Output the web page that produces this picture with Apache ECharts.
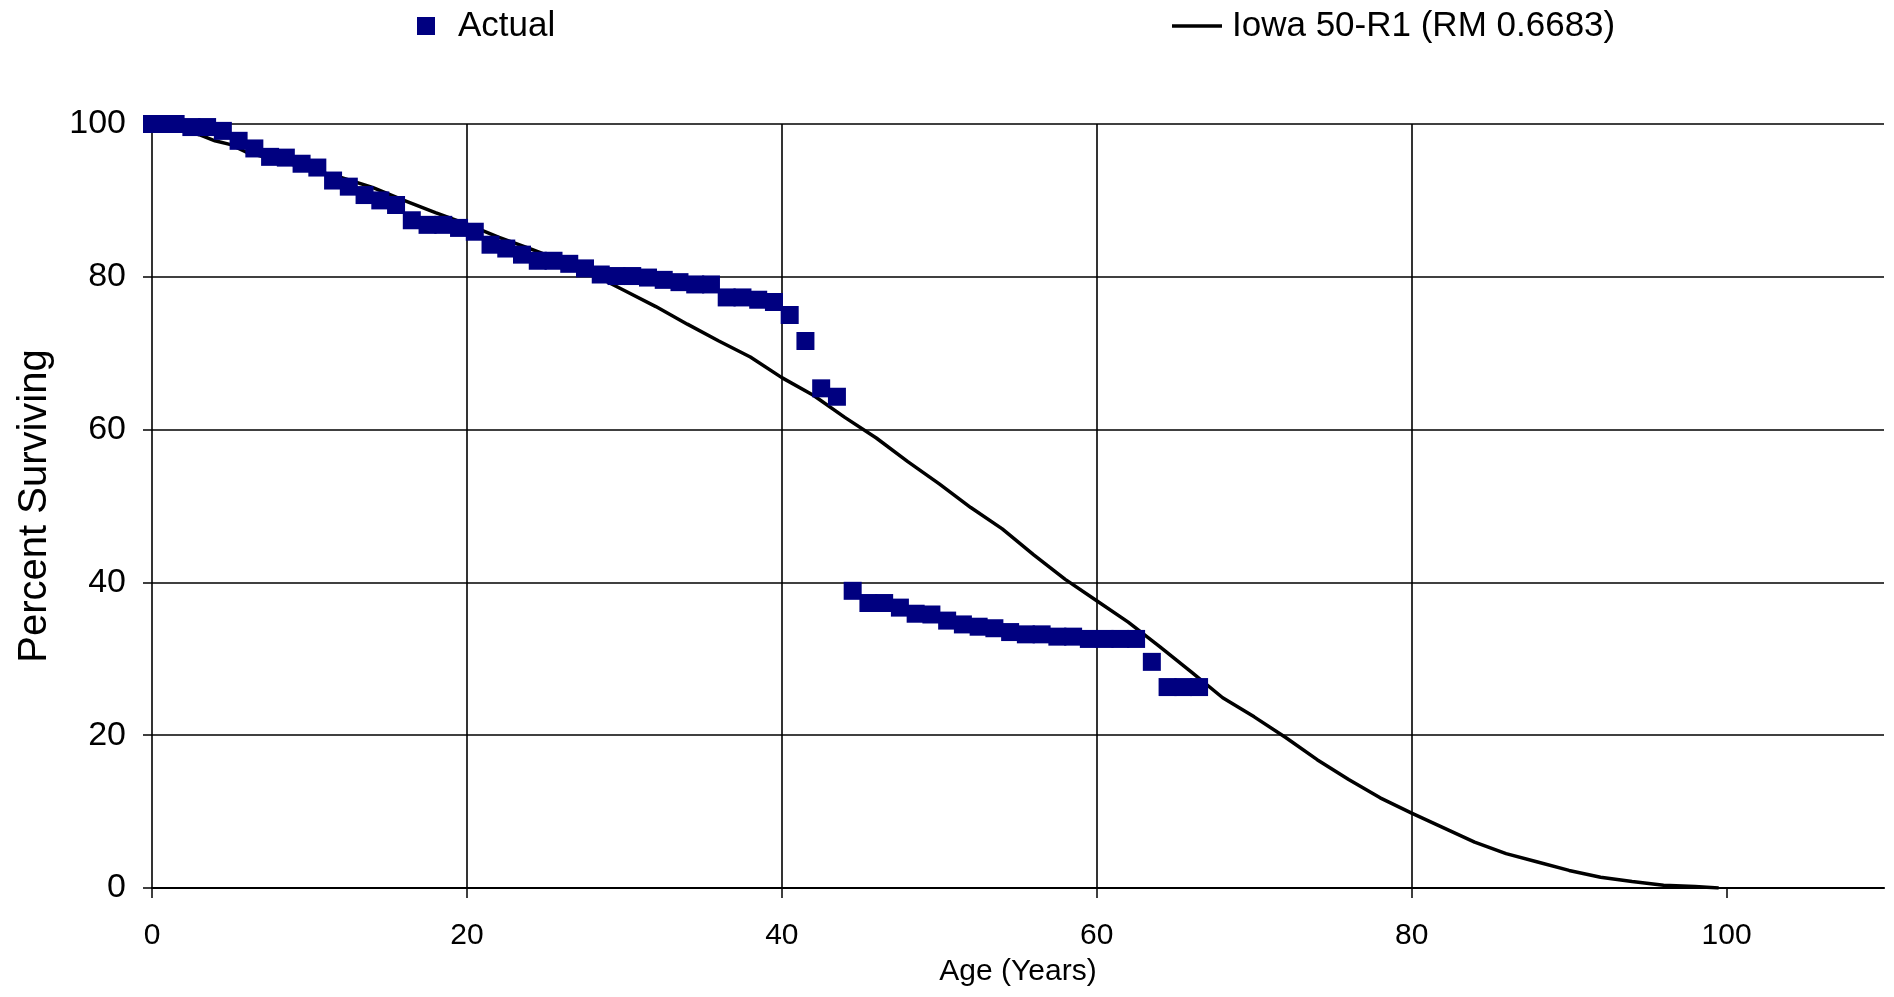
<!DOCTYPE html>
<html>
<head>
<meta charset="utf-8">
<script src="https://cdn.jsdelivr.net/npm/echarts@6/dist/echarts.min.js"></script>
<style>
html,body{margin:0;padding:0;background:#fff;}
#chart{width:1894px;height:997px;}
</style>
</head>
<body>
<div id="chart"></div>
<script>
// ---- Data ----
const actualAges = [0, 0.5, 1.5, 2.5, 3.5, 4.5, 5.5, 6.5, 7.5, 8.5, 9.5, 10.5, 11.5, 12.5, 13.5, 14.5, 15.5, 16.5, 17.5, 18.5, 19.5, 20.5, 21.5, 22.5, 23.5, 24.5, 25.5, 26.5, 27.5, 28.5, 29.5, 30.5, 31.5, 32.5, 33.5, 34.5, 35.5, 36.5, 37.5, 38.5, 39.5, 40.5, 41.5, 42.5, 43.5, 44.5, 45.5, 46.5, 47.5, 48.5, 49.5, 50.5, 51.5, 52.5, 53.5, 54.5, 55.5, 56.5, 57.5, 58.5, 59.5, 60.5, 61.5, 62.5, 63.5, 64.5, 65.5, 66.5];
const actualPct = [100, 100, 100, 99.6, 99.6, 99.1, 97.8, 96.8, 95.7, 95.6, 94.8, 94.3, 92.6, 91.8, 90.7, 90.0, 89.4, 87.4, 86.8, 86.8, 86.4, 85.9, 84.2, 83.7, 82.9, 82.1, 82.1, 81.7, 81.1, 80.3, 80.1, 80.1, 79.9, 79.6, 79.3, 79.0, 79.0, 77.3, 77.3, 77.0, 76.7, 75.0, 71.6, 65.4, 64.3, 38.9, 37.3, 37.3, 36.7, 35.9, 35.8, 35.0, 34.5, 34.2, 34.0, 33.5, 33.2, 33.2, 32.9, 32.9, 32.6, 32.6, 32.6, 32.6, 29.6, 26.3, 26.3, 26.3];

const iowaAges = [0, 1, 2, 3, 4, 5, 6, 8, 10, 12, 14, 16, 18, 20, 22, 24, 26, 28, 30, 32, 34, 36, 38, 40, 42, 44, 46, 48, 50, 52, 54, 56, 58, 60, 62, 64, 66, 68, 70, 72, 74, 76, 78, 80, 82, 84, 86, 88, 90, 92, 94, 96, 98, 99.5];
const iowaPct = [100, 99.9, 99.2, 98.6, 97.8, 97.3, 96.3, 95.2, 94.1, 93.0, 91.7, 90.0, 88.4, 86.9, 85.2, 83.7, 82.1, 80.3, 78.2, 76.1, 73.8, 71.6, 69.5, 66.8, 64.5, 61.6, 58.9, 55.8, 52.9, 49.8, 47.0, 43.6, 40.4, 37.6, 34.8, 31.6, 28.3, 24.9, 22.4, 19.7, 16.8, 14.2, 11.8, 9.8, 7.9, 6.0, 4.5, 3.4, 2.3, 1.4, 0.85, 0.35, 0.2, 0];

const xTicks = [0, 20, 40, 60, 80, 100];
const seriesNames = ['Actual', 'Iowa 50-R1 (RM 0.6683)'];
const xAxisTitle = 'Age (Years)';
const yAxisTitle = 'Percent Surviving';

// ---- Chart ----
const FONT = "'Liberation Sans', Arial, sans-serif";
const chart = echarts.init(document.getElementById('chart'), null, {renderer: 'canvas'});

const actualData = actualAges.map((a, i) => [a, actualPct[i]]);
const iowaData = iowaAges.map((a, i) => [a, iowaPct[i]]);

chart.setOption({
  backgroundColor: '#ffffff',
  animation: false,
  textStyle: {fontFamily: FONT, color: '#000'},
  legend: [
    {
      data: [{name: seriesNames[0], icon: 'rect'}],
      left: 417, top: 8, padding: 0,
      itemWidth: 18, itemHeight: 18,
      textStyle: {fontFamily: FONT, fontSize: 35, color: '#000', lineHeight: 36, padding: [0, 0, 0, 18]},
      selectedMode: false
    },
    {
      data: [{name: seriesNames[1], icon: 'rect'}],
      left: 1172, top: 8, padding: 0,
      itemWidth: 50, itemHeight: 3.5,
      textStyle: {fontFamily: FONT, fontSize: 35, color: '#000', lineHeight: 36, padding: [0, 0, 0, 5]},
      selectedMode: false
    }
  ],
  grid: {left: 152, right: 10, top: 124, bottom: 109, containLabel: false},
  xAxis: {
    type: 'value', min: 0, max: 110, interval: 20,
    name: xAxisTitle, nameLocation: 'middle', nameGap: 69,
    nameTextStyle: {fontFamily: FONT, fontSize: 30, color: '#000'},
    axisLine: {show: true, onZero: false, lineStyle: {color: '#000', width: 2.2}},
    axisTick: {show: true, length: 10, inside: false, lineStyle: {color: '#000', width: 1.5}, customValues: xTicks},
    axisLabel: {fontFamily: FONT, fontSize: 30, color: '#000', margin: 33, customValues: xTicks},
    splitLine: {show: true, showMinLine: false, showMaxLine: false, lineStyle: {color: '#000', width: 1.6}}
  },
  yAxis: {
    type: 'value', min: 0, max: 100, interval: 20,
    name: yAxisTitle, nameLocation: 'middle', nameGap: 97,
    nameTextStyle: {fontFamily: FONT, fontSize: 40, color: '#000'},
    axisLine: {show: true, lineStyle: {color: '#000', width: 1.6}},
    axisTick: {show: true, length: 9, inside: false, lineStyle: {color: '#000', width: 1.5}},
    axisLabel: {fontFamily: FONT, fontSize: 34, color: '#000', margin: 26, padding: [5, 0, 0, 0]},
    splitLine: {show: true, showMinLine: false, lineStyle: {color: '#000', width: 1.6}}
  },
  series: [
    {
      name: seriesNames[1], type: 'line', data: iowaData,
      showSymbol: false, symbol: 'none', smooth: false,
      lineStyle: {color: '#000', width: 3.5}, itemStyle: {color: '#000'}, z: 2
    },
    {
      name: seriesNames[0], type: 'scatter', data: actualData,
      symbol: 'rect', symbolSize: 18,
      itemStyle: {color: '#000080', opacity: 1}, z: 3
    }
  ]
});
</script>
</body>
</html>
